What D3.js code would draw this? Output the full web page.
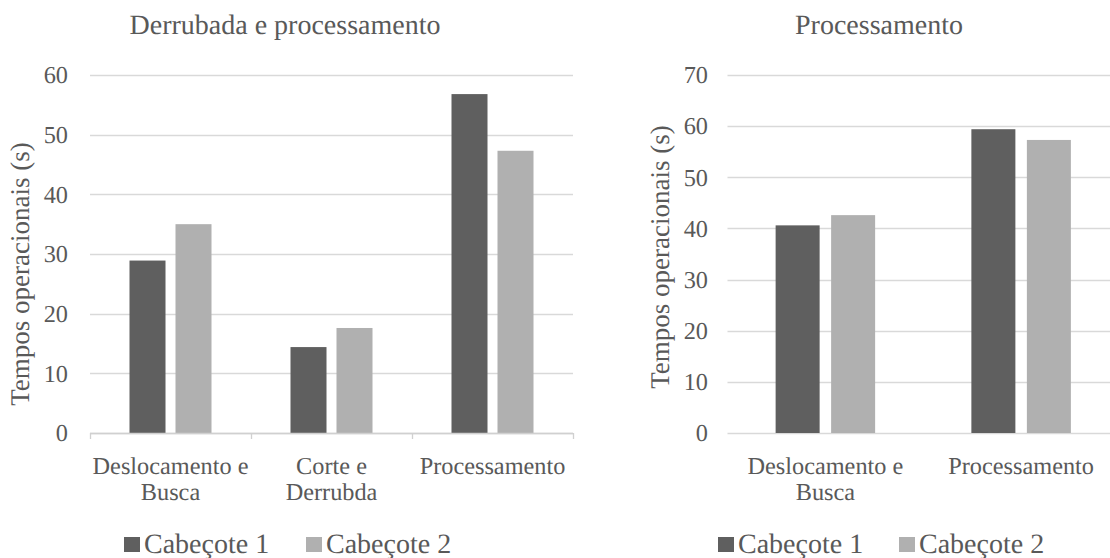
<!DOCTYPE html>
<html>
<head>
<meta charset="utf-8">
<script src="https://cdn.jsdelivr.net/npm/d3@7"></script>
<style>
  html, body { margin: 0; padding: 0; background: #ffffff; }
  svg { display: block; }
  svg text { text-rendering: geometricPrecision; }
</style>
</head>
<body>
<svg id="chart" width="1110" height="558" style="font-family: 'Liberation Serif', 'Times New Roman', 'Tinos', serif;"></svg>
<script>
// ---- data ----
const seriesNames = ["Cabeçote 1", "Cabeçote 2"];
const seriesColors = ["#5f5f5f", "#b0b0b0"];

const leftTitle = "Derrubada e processamento";
const leftCategories = [["Deslocamento e", "Busca"], ["Corte e", "Derrubda"], ["Processamento"]];
const leftSerie1 = [28.9, 14.4, 56.8];
const leftSerie2 = [35.0, 17.6, 47.3];
const leftTicks = [0, 10, 20, 30, 40, 50, 60];

const rightTitle = "Processamento";
const rightCategories = [["Deslocamento e", "Busca"], ["Processamento"]];
const rightSerie1 = [40.6, 59.4];
const rightSerie2 = [42.6, 57.3];
const rightTicks = [0, 10, 20, 30, 40, 50, 60, 70];

const yTitle = "Tempos operacionais (s)";

const FONT = "'Liberation Serif', 'Times New Roman', 'Tinos', serif";
const TEXT_COLOR = "#595959";
const svg = d3.select("#chart");

function drawPanel(cfg) {
  const g = svg.append("g");
  const y = d3.scaleLinear().domain([0, d3.max(cfg.ticks)]).range([cfg.y0, cfg.y1]);
  const x0 = d3.scaleBand().domain(d3.range(cfg.categories.length)).range([cfg.xL, cfg.xR]).padding(0);
  const step = cfg.barW + cfg.gap;
  const p = cfg.gap / step;
  const groupW = step * (2 - p);

  // gridlines
  g.append("g").selectAll("line").data(cfg.ticks).join("line")
    .attr("x1", cfg.xL).attr("x2", cfg.gridR)
    .attr("y1", d => Math.round(y(d)) + 0.5).attr("y2", d => Math.round(y(d)) + 0.5)
    .attr("stroke", "#d9d9d9").attr("stroke-width", 1.3);

  // tick labels
  g.append("g").selectAll("text").data(cfg.ticks).join("text")
    .attr("x", cfg.tickX).attr("y", d => y(d))
    .attr("dy", "0.34em")
    .attr("text-anchor", "end")
    .style("font-family", FONT).style("fill", TEXT_COLOR)
    .style("font-size", "24.3px")
    .text(d => d);

  // bars
  const values = cfg.categories.map((c, i) => [cfg.s1[i], cfg.s2[i]]);
  const grp = g.append("g").selectAll("g").data(values).join("g")
    .attr("transform", (d, i) => `translate(${x0(i) + x0.bandwidth() / 2 - groupW / 2 + cfg.shift},0)`);
  const x1 = d3.scaleBand().domain([0, 1]).range([0, groupW]).paddingInner(p).paddingOuter(0);
  grp.selectAll("rect").data(d => d).join("rect")
    .attr("x", (d, j) => x1(j))
    .attr("width", x1.bandwidth())
    .attr("y", d => y(d))
    .attr("height", d => y(0) - y(d))
    .attr("fill", (d, j) => seriesColors[j]);

  // x axis with ticks (left panel)
  if (cfg.axisTicks) {
    g.append("line").attr("x1", cfg.xL).attr("x2", cfg.xR)
      .attr("y1", Math.round(y(0)) + 0.5).attr("y2", Math.round(y(0)) + 0.5)
      .attr("stroke", "#d0d0d0").attr("stroke-width", 1.3);
    const b = d3.range(cfg.categories.length + 1).map(i => cfg.xL + i * x0.step());
    g.append("g").selectAll("line").data(b).join("line")
      .attr("x1", d => Math.round(d) + 0.5).attr("x2", d => Math.round(d) + 0.5)
      .attr("y1", y(0)).attr("y2", y(0) + 6)
      .attr("stroke", "#d0d0d0").attr("stroke-width", 1.3);
  }

  // category labels
  const cl = g.append("g").selectAll("text").data(cfg.categories).join("text")
    .attr("x", (d, i) => x0(i) + x0.bandwidth() / 2)
    .attr("y", cfg.catY)
    .attr("text-anchor", "middle")
    .style("font-family", FONT).style("fill", TEXT_COLOR)
    .style("font-size", "24.3px");
  cl.selectAll("tspan").data(d => d).join("tspan")
    .attr("x", function () { return d3.select(this.parentNode).attr("x"); })
    .attr("dy", (d, k) => k === 0 ? 0 : 25.5)
    .text(d => d);

  // title
  g.append("text").attr("x", cfg.titleX).attr("y", 34)
    .attr("text-anchor", "middle")
    .style("font-family", FONT).style("fill", TEXT_COLOR)
    .style("font-size", "28px").text(cfg.title);

  // y-axis title
  g.append("text")
    .attr("transform", `translate(${cfg.yTitleX},${cfg.yTitleY}) rotate(-90)`)
    .attr("text-anchor", "middle")
    .style("font-family", FONT).style("fill", TEXT_COLOR)
    .style("font-size", "27px").text(yTitle);

  // legend
  const lg = g.append("g").selectAll("g").data(seriesNames).join("g")
    .attr("transform", (d, i) => `translate(${cfg.legendX[i]},0)`);
  lg.append("rect").attr("x", 0).attr("y", 537).attr("width", 16).attr("height", 15)
    .attr("fill", (d, i) => seriesColors[i]);
  lg.append("text").attr("x", 20).attr("y", 552.5)
    .style("font-family", FONT).style("fill", TEXT_COLOR)
    .style("font-size", "28px").text(d => d);
}

drawPanel({
  title: leftTitle, titleX: 285, categories: leftCategories, s1: leftSerie1, s2: leftSerie2,
  ticks: leftTicks, y0: 433, y1: 75, xL: 90, xR: 573, gridR: 573, tickX: 68, shift: 0,
  barW: 36, gap: 10, axisTicks: true, catY: 474, yTitleX: 29, yTitleY: 274,
  legendX: [124, 306]
});

drawPanel({
  title: rightTitle, titleX: 879, categories: rightCategories, s1: rightSerie1, s2: rightSerie2,
  ticks: rightTicks, y0: 433, y1: 75, xL: 727.5, xR: 1119, gridR: 1110, tickX: 708, shift: 0,
  barW: 44, gap: 11.5, axisTicks: false, catY: 474, yTitleX: 669, yTitleY: 257,
  legendX: [718, 899]
});
</script>
</body>
</html>
